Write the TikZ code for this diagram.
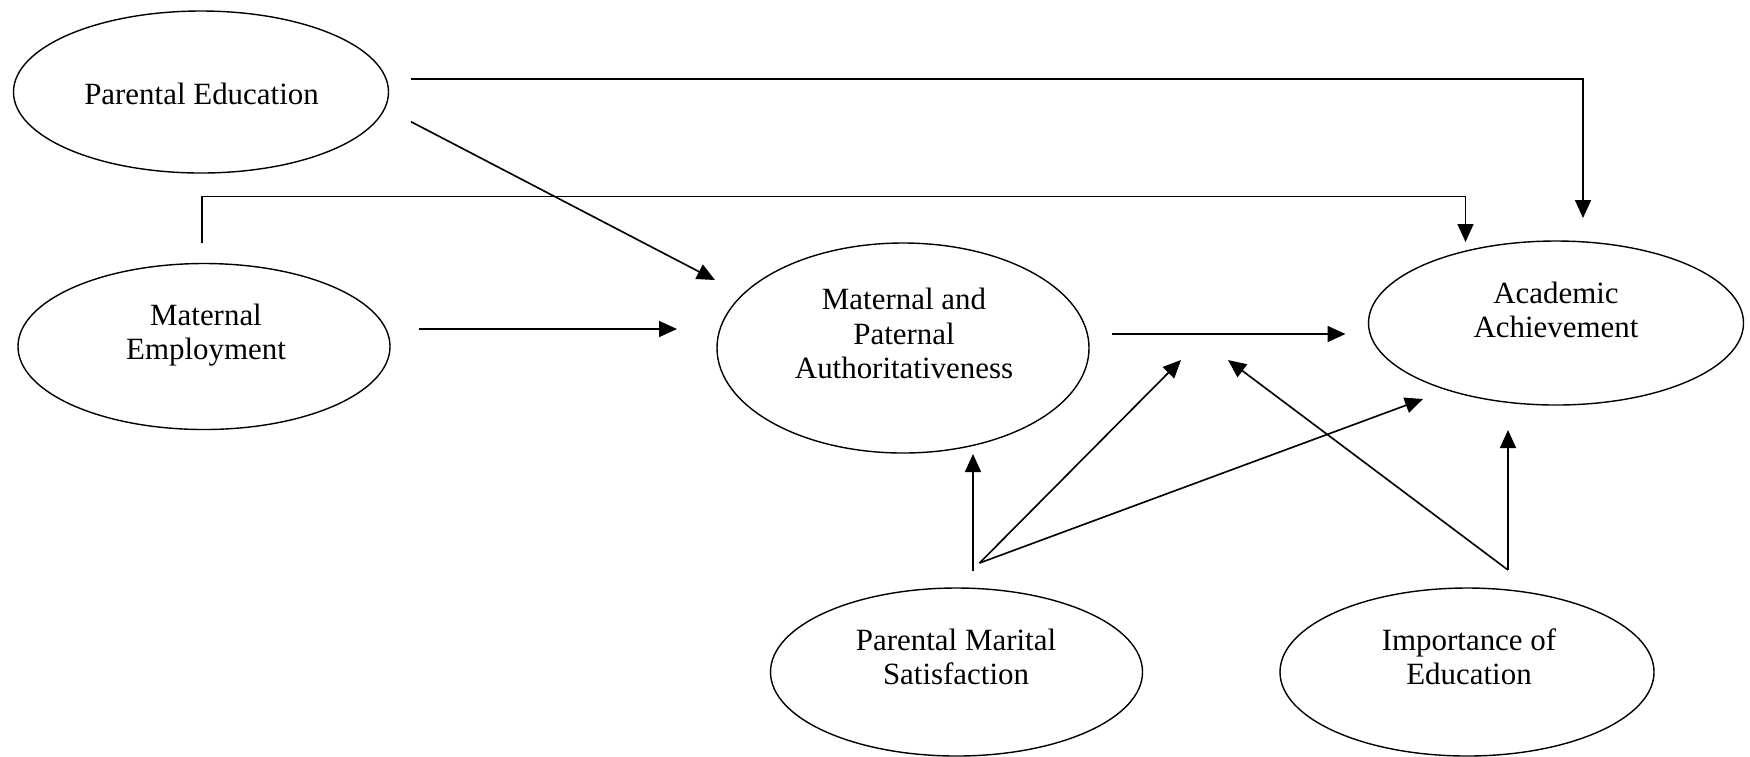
\documentclass[tikz,border=0pt]{standalone}
\usepackage{fontspec}
\setmainfont{Liberation Serif}
\usetikzlibrary{arrows.meta,shapes.geometric}
\begin{document}
\begin{tikzpicture}[x=0.015cm,y=-0.015cm,
  ell/.style={draw, ellipse, line width=0.6pt, inner sep=0pt},
  lbl/.style={align=center, inner sep=0pt, font=\fontsize{13.2}{14.7}\selectfont},
  conn/.style={line width=0.7pt, -{Triangle[length=0.27cm,width=0.24cm]}}]
\useasboundingbox (0,0) rectangle (1750,756);
% ellipses
\node[ell, minimum width=5.625cm, minimum height=2.43cm] (pe) at (201,92) {};
\node[ell, minimum width=5.58cm, minimum height=2.49cm] (me) at (204,346.5) {};
\node[ell, minimum width=5.58cm, minimum height=3.15cm] (mpa) at (903,348) {};
\node[ell, minimum width=5.625cm, minimum height=2.46cm] (aa) at (1556,323) {};
\node[ell, minimum width=5.58cm, minimum height=2.52cm] (pms) at (956.5,672) {};
\node[ell, minimum width=5.61cm, minimum height=2.52cm] (ie) at (1467,672) {};
% labels
\node[lbl] (peL) at (201.5,93.7) {Parental Education};
\node[lbl] (meL) at (206,335) {Maternal\\Employment};
\node[lbl] (mpaL) at (904,333.7) {Maternal and\\Paternal\\Authoritativeness};
\node[lbl] (aaL) at (1556,309.7) {Academic\\Achievement};
\node[lbl] (pmsL) at (956,656.8) {Parental Marital\\Satisfaction};
\node[lbl] (ieL) at (1469,656.8) {Importance of\\Education};
% connector end points
\coordinate (peA) at (411,79);
\coordinate (peAc) at (1583,79);
\coordinate (peAt) at (1583,218);
\coordinate (peB) at (411,121.7);
\coordinate (peBt) at (715,280);
\coordinate (meA) at (202,243);
\coordinate (meAc1) at (202,196.5);
\coordinate (meAc2) at (1465.5,196.5);
\coordinate (meAt) at (1465.5,242);
\coordinate (meB) at (418.5,329);
\coordinate (meBt) at (677,329);
\coordinate (mpaA) at (1111.5,334);
\coordinate (mpaAt) at (1345.5,334);
\coordinate (pmsV) at (973,571);
\coordinate (pmsVt) at (973,454);
\coordinate (pmsD) at (979.5,563);
\coordinate (pmsD1t) at (1181,360);
\coordinate (pmsD2t) at (1423,399);
\coordinate (ieV) at (1508,570);
\coordinate (ieVt) at (1508,430);
\coordinate (ieDt) at (1228,360);
% connectors
\draw[conn] (peA) -- (peAc) -- (peAt);
\draw[conn] (peB) -- (peBt);
\draw[conn] (meA) -- (meAc1) -- (meAc2) -- (meAt);
\draw[conn] (meB) -- (meBt);
\draw[conn] (mpaA) -- (mpaAt);
\draw[conn] (pmsV) -- (pmsVt);
\draw[conn] (pmsD) -- (pmsD1t);
\draw[conn] (pmsD) -- (pmsD2t);
\draw[conn] (ieV) -- (ieVt);
\draw[conn] (ieV) -- (ieDt);
\end{tikzpicture}
\end{document}
